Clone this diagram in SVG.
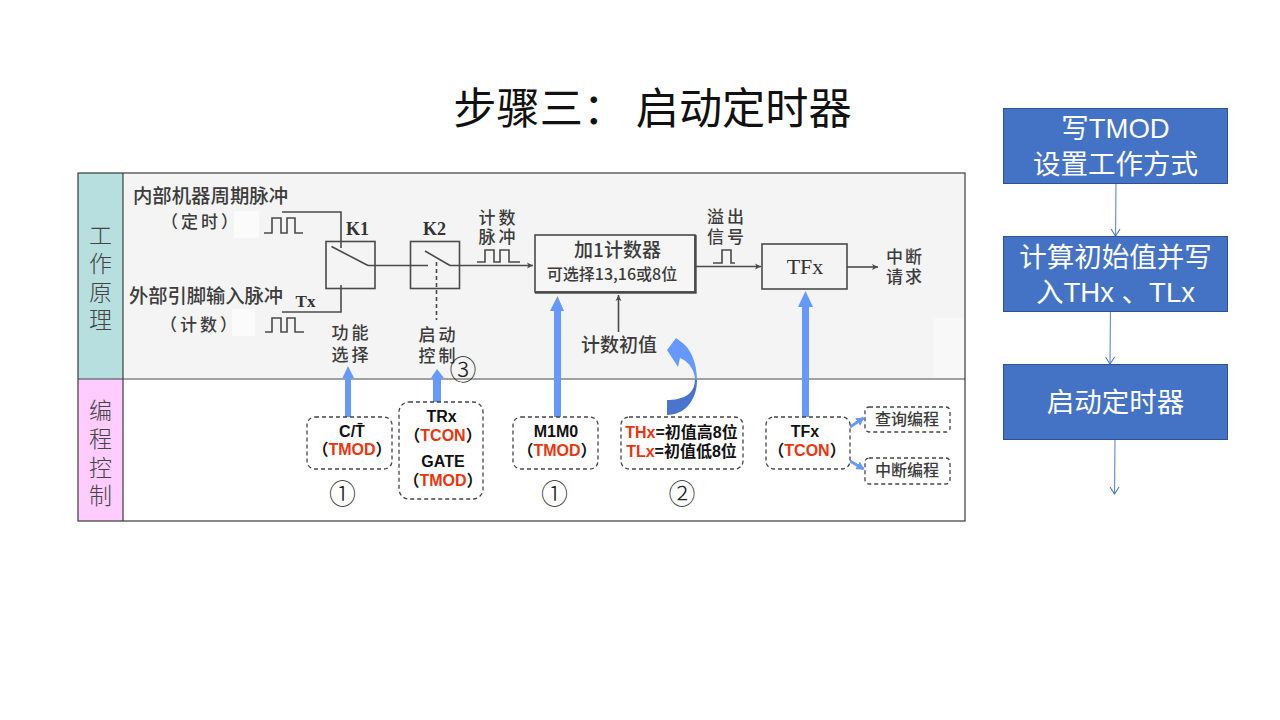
<svg xmlns="http://www.w3.org/2000/svg" width="1280" height="720" viewBox="0 0 1280 720">
<style>
text{font-family:"Liberation Sans","Noto Sans CJK SC",sans-serif;dominant-baseline:central;text-anchor:middle}
.cjk{font-family:"Noto Sans CJK SC",sans-serif}
.side{font-family:"Noto Sans CJK SC",sans-serif;font-size:23px;font-weight:300;fill:#444}
.pic{font-family:"Noto Sans CJK SC",sans-serif;font-weight:500;fill:#3c3c3c}
.ser{font-family:"Liberation Serif",serif;font-weight:bold;fill:#333}
.blk{fill:none;stroke:#4a4a4a;stroke-width:1.6}
.dash{fill:#fff;stroke:#444;stroke-width:1.3;stroke-dasharray:4 3}
.lb{font-size:16px;font-weight:bold;fill:#111}
.red{fill:#e8360f}
.num{font-family:"Noto Sans CJK SC",sans-serif;font-size:27px;font-weight:300;fill:#222}
.step{fill:#4472c4;stroke:#2f528f;stroke-width:1}
.st{font-family:"Liberation Sans","Noto Sans CJK SC",sans-serif;font-size:27.5px;fill:#fff}
.flow{fill:none;stroke:#6f8fd0;stroke-width:1.2;marker-end:url(#open)}
.blue{fill:#6699ff}
</style>
<defs>
<marker id="open" markerWidth="14" markerHeight="14" refX="10" refY="7" orient="auto" markerUnits="userSpaceOnUse"><path d="M3 2.500 L10 7 L3 11.500" fill="none" stroke="#4472c4" stroke-width="1"/></marker>
<marker id="tip" markerWidth="10" markerHeight="8" refX="7" refY="4" orient="auto" markerUnits="userSpaceOnUse"><path d="M1 1 L7 4 L1 7 L2.500 4Z" fill="#4a4a4a"/></marker>
<marker id="bhead" markerWidth="10" markerHeight="10" refX="7" refY="5" orient="auto" markerUnits="userSpaceOnUse"><path d="M0 .5 L8 5 L0 9.500Z" fill="#6699ff"/></marker>
</defs>
<rect width="1280" height="720" fill="#fff"/>
<text class="cjk" x="652.500" y="105" font-size="43.200" fill="#111">步骤三： 启动定时器</text>

<g id="panel">
<rect x="124" y="174" width="840" height="204" fill="#f4f4f4"/>
<rect x="934" y="318" width="30" height="60" fill="#f8f8f8"/>
<rect x="234" y="211" width="25" height="27" fill="#fbfbfb"/>
<rect x="232" y="309" width="23" height="27" fill="#fbfbfb"/>
<rect x="78" y="173" width="45" height="206" fill="#b7dfe0"/>
<rect x="78" y="379" width="45" height="142" fill="#ffccff"/>
<rect x="78" y="173" width="887" height="348" fill="none" stroke="#3a3a3a" stroke-width="1.200"/>
<line x1="123" y1="173" x2="123" y2="521" stroke="#3a3a3a" stroke-width="1.200"/>
<line x1="78" y1="379" x2="965" y2="379" stroke="#444" stroke-width="1.200"/>
<text class="side"><tspan x="100.500" y="234">工</tspan><tspan x="100.500" y="262">作</tspan><tspan x="100.500" y="291">原</tspan><tspan x="100.500" y="318">理</tspan></text>
<text class="side"><tspan x="100.500" y="409">编</tspan><tspan x="100.500" y="437">程</tspan><tspan x="100.500" y="466">控</tspan><tspan x="100.500" y="494">制</tspan></text>
</g>

<g id="labels-working">
<text class="pic" x="210.500" y="194" font-size="19.400">内部机器周期脉冲</text>
<text class="pic" x="201" y="220" font-size="17" letter-spacing="3">（定时）</text>
<text class="pic" x="206" y="295" font-size="19.300">外部引脚输入脉冲</text>
<text class="ser" x="305.500" y="301" font-size="17">Tx</text>
<text class="pic" x="200" y="323" font-size="17" letter-spacing="3">（计数）</text>
<text class="pic" font-size="17" letter-spacing="3"><tspan x="498.500" y="216">计数</tspan><tspan x="498.500" y="235">脉冲</tspan></text>
<text class="pic" font-size="17" letter-spacing="3"><tspan x="351.500" y="331">功能</tspan><tspan x="351.500" y="353">选择</tspan></text>
<text class="pic" font-size="17" letter-spacing="3"><tspan x="438.500" y="333">启动</tspan><tspan x="438.500" y="354">控制</tspan></text>
<text class="pic" font-size="17" letter-spacing="3"><tspan x="727" y="215">溢出</tspan><tspan x="727" y="235">信号</tspan></text>
<text class="pic" font-size="17" letter-spacing="2"><tspan x="905" y="255">中断</tspan><tspan x="905" y="275">请求</tspan></text>
<text class="pic" x="619" y="343" font-size="19">计数初值</text>
</g>

<g id="k1"><rect class="blk" x="326" y="241.500" width="49" height="47"/><text class="ser" x="357.500" y="229" font-size="18">K1</text><path class="blk" d="M331.500 246.500 L368 265.500"/></g>
<g id="k2"><rect class="blk" x="410.500" y="241.500" width="49" height="47"/><text class="ser" x="434.500" y="229" font-size="18">K2</text><path class="blk" d="M425 251 L450 265.500"/></g>
<g id="counter"><rect x="535" y="235" width="160" height="57" fill="#f6f6f6" stroke="#4a4a4a" stroke-width="1.600"/><path d="M695.500 235 V292.500 H535" fill="none" stroke="#4a4a4a" stroke-width="2.400"/><text class="pic" x="617.500" y="248" font-size="19">加1计数器</text><text class="pic" x="612" y="273" font-size="16">可选择13,16或8位</text></g>
<g id="tfx-block"><rect class="blk" x="762" y="244" width="85" height="45"/><text x="805" y="266" font-size="22" style="font-family:'Liberation Serif',serif" fill="#333">TFx</text></g>

<g id="connectors">
<path class="blk" d="M282 212 H341 V248"/>
<path class="blk" d="M282 312 H341 V285"/>
<path class="blk" d="M368 265.500 H428"/>
<path class="blk" d="M450 265.500 H533" marker-end="url(#tip)"/>
<path class="blk" d="M436.500 262 V320" stroke-dasharray="4 3"/>
<path class="blk" d="M695 266.500 H761" marker-end="url(#tip)"/>
<path class="blk" d="M847 267 H878" marker-end="url(#tip)"/>
<path class="blk" d="M618.500 332 V295" marker-end="url(#tip)"/>
<path class="blk" d="M264 233 H272 V218 H281 V233 H287 V218 H295 V233 H303"/>
<path class="blk" d="M265 332 H272 V318 H281 V332 H287 V318 H295 V332 H304"/>
<path class="blk" d="M477 262 H485 V250 H494 V262 H500 V250 H509 V262 H520"/>
<path class="blk" d="M713 263 H722 V250 H731 V263 H735"/>
<path class="blue" d="M345 417 V378 H342.500 L348 366 L354 378 H351 V417Z"/>
<path class="blue" d="M433 402 V378 H431 L437 369 L444 378 H441 V402Z"/>
<path class="blue" d="M554 417 V311 H550 L557.500 296 L564 311 H561 V417Z"/>
<path class="blue" d="M802 417 V307 H798 L805.500 291 L813 307 H809 V417Z"/>
<path class="blue" d="M697 380 C697 362 690 347 680 341 L676 338 L667 350 L678 367 L680 358 C690 362 695 372 695 380Z"/>
<path d="M697 380 C697 400 685 415 667 415 V400 C682 400 695 395 695 379Z" fill="#4a75cf"/>
<path d="M850 427 L863.500 418" fill="none" stroke="#6699ff" stroke-width="3" marker-end="url(#bhead)"/>
<path d="M850 461 L863.500 469" fill="none" stroke="#6699ff" stroke-width="3" marker-end="url(#bhead)"/>
</g>

<g id="ct"><rect class="dash" x="307" y="417" width="85" height="52" rx="8"/><text class="lb" x="352" y="431">C/T̄</text><text class="lb" x="352" y="449">（<tspan class="red">TMOD</tspan>）</text></g>
<g id="trx"><rect class="dash" x="399" y="402" width="84" height="97" rx="10"/><text class="lb" x="441.500" y="416">TRx</text><text class="lb" x="443" y="435">（<tspan class="red">TCON</tspan>）</text><text class="lb" x="443" y="461">GATE</text><text class="lb" x="443" y="480">（<tspan class="red">TMOD</tspan>）</text></g>
<g id="m1m0"><rect class="dash" x="513" y="417" width="85" height="52" rx="8"/><text class="lb" x="556" y="431">M1M0</text><text class="lb" x="557" y="450">（<tspan class="red">TMOD</tspan>）</text></g>
<g id="thtl"><rect class="dash" x="621" y="417" width="122" height="52" rx="8"/><text class="lb" x="681.500" y="432"><tspan class="red">THx</tspan>=初值高8位</text><text class="lb" x="681.500" y="451"><tspan class="red">TLx</tspan>=初值低8位</text></g>
<g id="tfx"><rect class="dash" x="766" y="417" width="84" height="52" rx="8"/><text class="lb" x="805" y="431">TFx</text><text class="lb" x="807" y="450">（<tspan class="red">TCON</tspan>）</text></g>
<g id="query"><rect class="dash" x="865" y="407" width="85" height="25" rx="4"/><text class="pic" x="907" y="418" font-size="16">查询编程</text></g>
<g id="interrupt"><rect class="dash" x="865" y="458" width="85" height="26" rx="4"/><text class="pic" x="907" y="469" font-size="16">中断编程</text></g>
<text class="num" x="342.500" y="492">①</text><text class="num" x="463" y="368">③</text><text class="num" x="554.500" y="492">①</text><text class="num" x="682" y="492">②</text>

<g id="steps-connectors">
<path class="flow" d="M1116 183 L1115.500 236"/>
<path class="flow" d="M1110.500 311.500 L1110 364"/>
<path class="flow" d="M1115 440 L1114.500 494"/>
</g>
<g id="step1"><rect class="step" x="1003.500" y="108.500" width="224" height="75"/><text class="st" x="1115.500" y="128">写TMOD</text><text class="st" x="1115.500" y="164">设置工作方式</text></g>
<g id="step2"><rect class="step" x="1003.500" y="236.500" width="224" height="75"/><text class="st" x="1115.500" y="257">计算初始值并写</text><text class="st" x="1115.500" y="292">入THx 、TLx</text></g>
<g id="step3"><rect class="step" x="1003.500" y="364.500" width="224" height="75"/><text class="st" x="1115.500" y="402">启动定时器</text></g>
</svg>
